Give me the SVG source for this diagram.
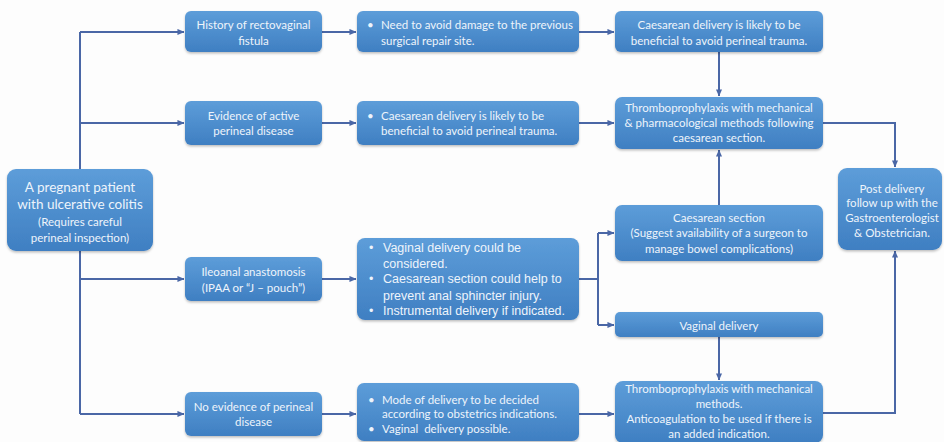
<svg xmlns="http://www.w3.org/2000/svg" width="944" height="442" viewBox="0 0 944 442">
<defs>
<linearGradient id="g" x1="0" y1="0" x2="0" y2="1">
<stop offset="0" stop-color="#5d9dd9"/>
<stop offset="1" stop-color="#3f7fc2"/>
</linearGradient>
<filter id="sh" x="-10%" y="-10%" width="120%" height="130%">
<feDropShadow dx="0" dy="1.5" stdDeviation="1.2" flood-color="#000" flood-opacity="0.25"/>
</filter>
<marker id="ah" viewBox="0 0 8 8" refX="7.5" refY="4" markerWidth="7" markerHeight="7" markerUnits="userSpaceOnUse" orient="auto">
<path d="M0,0.5 L8,4 L0,7.5 z" fill="#4a67a6"/>
</marker>
</defs>
<style>
.box{fill:url(#g);filter:url(#sh);}
.t{font-family:Lato,"Open Sans",sans-serif;font-size:11.5px;fill:#eef4fb;text-anchor:middle;}
.tl{font-family:Lato,"Open Sans",sans-serif;font-size:11.5px;fill:#eef4fb;}
.a{font-family:"Liberation Sans",Arial,sans-serif;font-size:12.5px;fill:#eef4fb;}
.big{font-size:13.5px;}
.c{fill:none;stroke:#4a67a6;stroke-width:2;}
.ca{fill:none;stroke:#4a67a6;stroke-width:2;marker-end:url(#ah);}
</style>
<rect width="944" height="442" fill="#fdfdfd"/>

<g id="connectors">
<path class="c" d="M80,32 V414"/>
<path class="ca" d="M80,32 H184"/>
<path class="ca" d="M80,123 H184"/>
<path class="ca" d="M80,279 H184"/>
<path class="ca" d="M80,414 H184"/>
<path class="ca" d="M322,32 H356"/>
<path class="ca" d="M322,123 H356"/>
<path class="ca" d="M322,279 H356"/>
<path class="ca" d="M322,414 H356"/>
<path class="ca" d="M579,32 H614"/>
<path class="ca" d="M579,123 H614"/>
<path class="ca" d="M579,414 H614"/>
<path class="c" d="M579,279 H598"/>
<path class="c" d="M598,233 V325"/>
<path class="ca" d="M598,233 H614"/>
<path class="ca" d="M598,325 H614"/>
<path class="ca" d="M719,52 V96"/>
<path class="ca" d="M719,205 V150"/>
<path class="ca" d="M719,337 V380"/>
<path class="ca" d="M823,123 H895 V167"/>
<path class="ca" d="M823,413 H895 V251"/>
</g>

<g id="start">
<rect class="box" x="7" y="169" width="146" height="82" rx="9"/>
<text class="t big" x="80" y="192">A pregnant patient</text>
<text class="t big" x="80" y="209">with ulcerative colitis</text>
<text class="t" x="80" y="226">(Requires careful</text>
<text class="t" x="80" y="242">perineal inspection)</text>
</g>

<g id="history">
<rect class="box" x="185" y="11" width="137" height="41" rx="6"/>
<text class="t" x="253.5" y="29">History of rectovaginal</text>
<text class="t" x="253.5" y="45">fistula</text>
</g>
<g id="evidence">
<rect class="box" x="185" y="101" width="137" height="44" rx="6"/>
<text class="t" x="253.5" y="120">Evidence of active</text>
<text class="t" x="253.5" y="135">perineal disease</text>
</g>
<g id="ileoanal">
<rect class="box" x="185" y="257" width="137" height="44" rx="6"/>
<text class="t" x="253.5" y="276">Ileoanal anastomosis</text>
<text class="t" x="253.5" y="292">(IPAA or “J – pouch”)</text>
</g>
<g id="noevidence">
<rect class="box" x="185" y="392" width="137" height="44" rx="6"/>
<text class="t" x="253.5" y="411">No evidence of perineal</text>
<text class="t" x="253.5" y="426">disease</text>
</g>

<g id="avoid">
<rect class="box" x="357" y="11" width="222" height="41" rx="6"/>
<text class="tl" x="367" y="29">•</text>
<text class="tl" x="381" y="29">Need to avoid damage to the previous</text>
<text class="tl" x="381" y="45">surgical repair site.</text>
</g>
<g id="likely1">
<rect class="box" x="357" y="101" width="222" height="44" rx="6"/>
<text class="tl" x="367" y="120">•</text>
<text class="tl" x="381" y="120">Caesarean delivery is likely to be</text>
<text class="tl" x="381" y="135">beneficial to avoid perineal trauma.</text>
</g>
<g id="options">
<rect class="box" x="357" y="238" width="222" height="82" rx="8"/>
<text class="a" x="369" y="252">•</text>
<text class="a" x="383" y="252">Vaginal delivery could be</text>
<text class="a" x="383" y="268">considered.</text>
<text class="a" x="369" y="283">•</text>
<text class="a" x="383" y="283">Caesarean section could help to</text>
<text class="a" x="383" y="300">prevent anal sphincter injury.</text>
<text class="a" x="369" y="315">•</text>
<text class="a" x="383" y="315">Instrumental delivery if indicated.</text>
</g>
<g id="mode">
<rect class="box" x="357" y="383" width="222" height="58" rx="7"/>
<text class="tl" x="368" y="404">•</text>
<text class="tl" x="382" y="404">Mode of delivery to be decided</text>
<text class="tl" x="382" y="418">according to obstetrics indications.</text>
<text class="tl" x="368" y="433">•</text>
<text class="tl" x="382" y="433">Vaginal&#160; delivery possible.</text>
</g>

<g id="likely2">
<rect class="box" x="615" y="11" width="208" height="41" rx="6"/>
<text class="t" x="719" y="29">Caesarean delivery is likely to be</text>
<text class="t" x="719" y="45">beneficial to avoid perineal trauma.</text>
</g>
<g id="thrombo1">
<rect class="box" x="615" y="97" width="208" height="52" rx="7"/>
<text class="t" x="719" y="112">Thromboprophylaxis with mechanical</text>
<text class="t" x="719" y="127">&amp; pharmacological methods following</text>
<text class="t" x="719" y="142">caesarean section.</text>
</g>
<g id="caesarean">
<rect class="box" x="615" y="205" width="208" height="56" rx="7"/>
<text class="t" x="719" y="222">Caesarean section</text>
<text class="t" x="719" y="237">(Suggest availability of a surgeon to</text>
<text class="t" x="719" y="253">manage bowel complications)</text>
</g>
<g id="vaginal">
<rect class="box" x="615" y="312" width="208" height="25" rx="5"/>
<text class="t" x="719" y="330">Vaginal delivery</text>
</g>
<g id="thrombo2">
<rect class="box" x="615" y="381" width="208" height="62" rx="8"/>
<text class="t" x="719" y="393">Thromboprophylaxis with mechanical</text>
<text class="t" x="719" y="408">methods.</text>
<text class="t" x="719" y="423">Anticoagulation to be used if there is</text>
<text class="t" x="719" y="438">an added indication.</text>
</g>
<g id="post">
<rect class="box" x="838" y="168" width="104" height="82" rx="9"/>
<text class="t" x="892" y="193">Post delivery</text>
<text class="t" x="892" y="207">follow up with the</text>
<text class="t" x="892" y="222">Gastroenterologist</text>
<text class="t" x="892" y="237">&amp; Obstetrician.</text>
</g>
</svg>
